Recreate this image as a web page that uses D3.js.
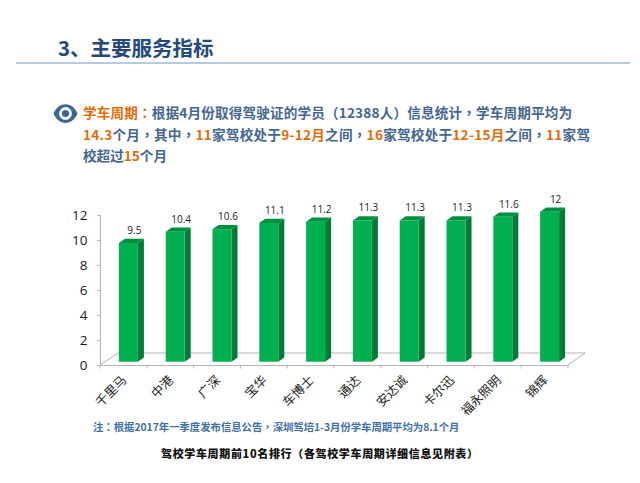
<!DOCTYPE html>
<html><head><meta charset="utf-8">
<script src="https://cdn.jsdelivr.net/npm/d3@7"></script>
<style>html,body{margin:0;padding:0;background:#fff}svg{display:block}
text{font-family:"Noto Sans CJK SC","Noto Sans",sans-serif}</style></head>
<body><svg id="c" width="640" height="483"></svg>
<script>
const categories=["千里马","中港","广深","宝华","车博士","通达","安达诚","卡尔迅","福永照明","锦辉"];
const values=[9.5,10.4,10.6,11.1,11.2,11.3,11.3,11.3,11.6,12];
const valueLabels=["9.5","10.4","10.6","11.1","11.2","11.3","11.3","11.3","11.6","12"];
const yTicks=[0,2,4,6,8,10,12];
const titleText="3、主要服务指标";
const line1=[["学车周期：",1],["根据4月份取得驾驶证的学员（12388人）信息统计，学车周期平均为",0]];
const line2=[["14.3",1],["个月，其中，",0],["11",1],["家驾校处于",0],["9-12月",1],["之间，",0],["16",1],["家驾校处于",0],["12-15月",1],["之间，",0],["11",1],["家驾",0]];
const line3=[["校超过",0],["15",1],["个月",0]];
const noteText="注：根据2017年一季度发布信息公告，深圳驾培1-3月份学车周期平均为8.1个月";
const captionText="驾校学车周期前10名排行（各驾校学车周期详细信息见附表）";

const svg=d3.select("#c");
const BLUE="#44668f",ORANGE="#e36c0a",AXIS="#b5b5b5";

// full-width punctuation centred in its box, as in the reference
function addRuns(t,str,fill){
  str.split(/([，：（）])/).filter(s=>s).forEach(s=>{
    const sp=t.append("tspan").attr("fill",fill).text(s);
    if(/[，：（）]/.test(s)) sp.style("font-family","'Noto Sans CJK TC'");
  });
}

svg.append("text").attr("x",58).attr("y",55.5).attr("font-size",20.5).attr("font-weight",700).attr("fill","#24497a").text(titleText);
svg.append("line").attr("x1",16).attr("x2",630).attr("y1",63).attr("y2",63).attr("stroke","#6f94bd").attr("stroke-width",1);

// eye icon
const eye=svg.append("g").attr("transform","translate(65.5,113.5)");
eye.append("path").attr("d","M-12,0C-7,-12.5 7,-12.5 12,0C7,12.5 -7,12.5 -12,0Z").attr("fill","#3f6496");
eye.append("circle").attr("r",6.4).attr("fill","#fff");
eye.append("circle").attr("r",3.6).attr("fill","#3f6496");

[[line1,118,489],[line2,140,507],[line3,161,null]].forEach(([segs,y,len])=>{
  const t=svg.append("text").attr("x",83).attr("y",y).attr("font-size",13.6).attr("font-weight",700);
  if(len) t.attr("textLength",len).attr("lengthAdjust","spacing");
  segs.forEach(([s,h])=>addRuns(t,s,h?ORANGE:BLUE));
});

const x=d3.scaleBand().domain(categories).range([100,568]).paddingInner(0.594).paddingOuter(0.297);
const y=d3.scaleLinear().domain([0,12]).range([365,215]);
const band=d3.scaleBand().domain(categories).range([100,568]);

// floor
const DX=18,DY=12;
svg.append("path").attr("d",`M100,365L${100+DX},${365-DY}L${568+DX-1},${365-DY}L568,365`)
  .attr("fill","#fff").attr("stroke",AXIS).attr("stroke-width",1);

// axes
const yAxis=d3.axisLeft(y).tickValues(yTicks).tickSize(3).tickPadding(9.5).tickFormat(d3.format("d"));
const yg=svg.append("g").attr("transform","translate(100,0)").call(yAxis);
yg.selectAll("line,path").attr("stroke",AXIS);
yg.selectAll("text").attr("font-size",13.5).attr("fill","#1a1a1a").style("font-family","'Open Sans',sans-serif");

const xAxis=d3.axisBottom(band).tickSize(0).tickPadding(0);
const xg=svg.append("g").attr("transform","translate(0,365)").call(xAxis);
xg.select("path").attr("stroke",AXIS);
xg.selectAll("line").remove();
xg.selectAll(".tick text").attr("font-size",12.5).attr("fill","#222").attr("text-anchor","end")
  .attr("dy",0).attr("y",0).attr("transform","translate(4,16) rotate(-45)");
svg.append("g").selectAll("line").data(d3.range(11)).join("line")
  .attr("x1",i=>100+i*band.step()).attr("x2",i=>100+i*band.step()).attr("y1",365).attr("y2",368.5).attr("stroke",AXIS);

// bars
const OX=5,OY=3.3,SX=6,SY=4.3;
const g=svg.append("g").selectAll("g").data(categories.map((c,i)=>({c,v:values[i],l:valueLabels[i]}))).join("g");
const bw=x.bandwidth();
g.append("path").attr("fill","#007a37").attr("d",d=>{
  const r=x(d.c)+OX+bw,t=y(d.v)-OY,b=y(0)-OY;
  return `M${r},${t}L${r+SX},${t-SY}L${r+SX},${b-SY}L${r},${b}Z`;});
g.append("path").attr("fill","#00903f").attr("d",d=>{
  const l=x(d.c)+OX,t=y(d.v)-OY;
  return `M${l},${t}L${l+SX},${t-SY}L${l+bw+SX},${t-SY}L${l+bw},${t}Z`;});
g.append("rect").attr("fill","#00b050").attr("x",d=>x(d.c)+OX).attr("width",bw)
  .attr("y",d=>y(d.v)-OY).attr("height",d=>y(0)-y(d.v));
g.append("text").attr("x",d=>x(d.c)+OX+bw/2+6).attr("y",d=>y(d.v)-OY-9)
  .attr("text-anchor","middle").attr("font-size",10).attr("fill","#222")
  .style("font-family","'Open Sans',sans-serif").text(d=>d.l);

const note=svg.append("text").attr("x",93).attr("y",431).attr("font-size",10.35).attr("font-weight",700);
addRuns(note,noteText,"#3f6fa8");
svg.append("text").attr("x",161).attr("y",457.5).attr("font-size",11).attr("font-weight",900).attr("fill","#111")
  .attr("textLength",317).attr("lengthAdjust","spacing").text(captionText);
</script></body></html>
